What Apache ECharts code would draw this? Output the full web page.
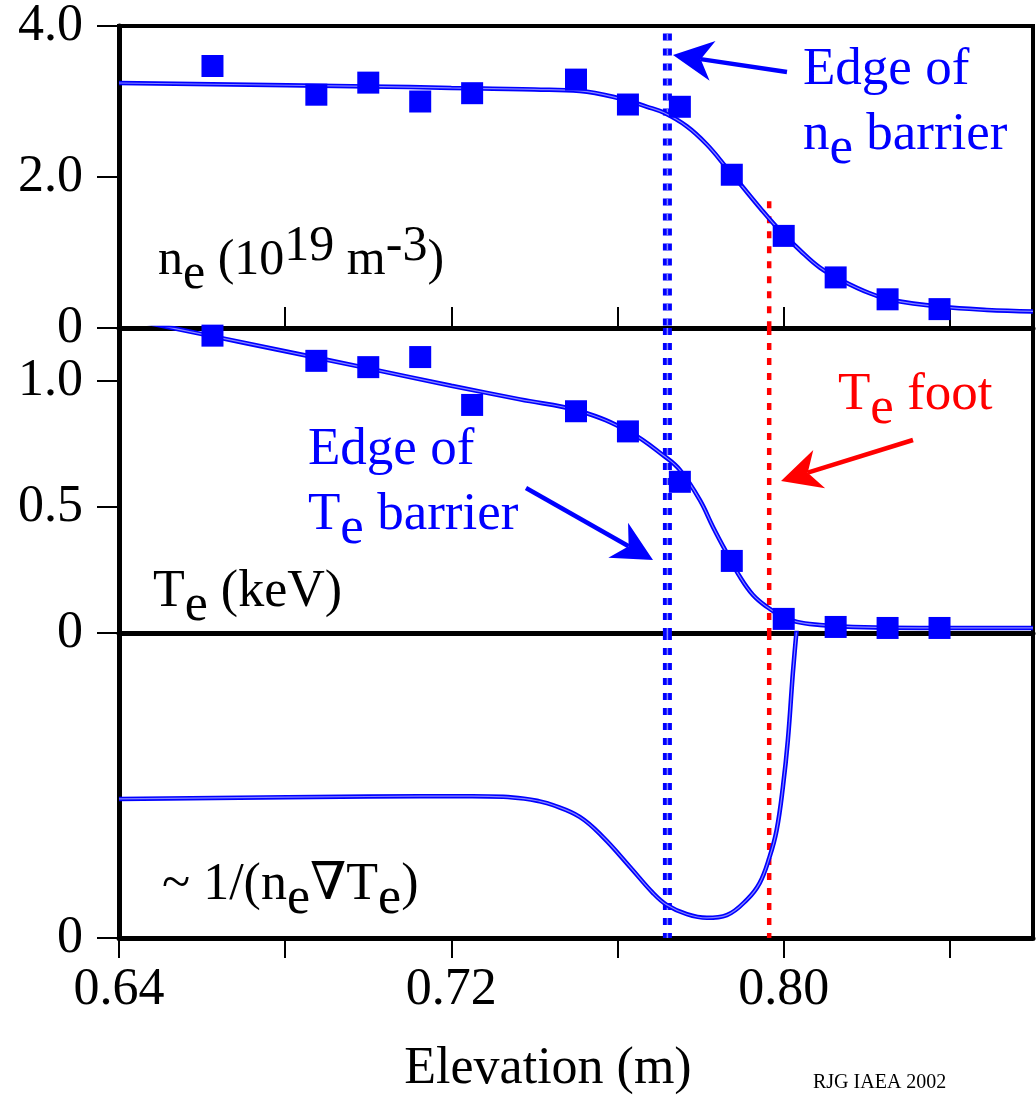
<!DOCTYPE html>
<html lang="en">
<head>
<meta charset="UTF-8">
<title>ne / Te edge barrier</title>
<script src="https://cdn.jsdelivr.net/npm/echarts@6.0.0/dist/echarts.min.js"></script>
<style>
  html, body { margin: 0; padding: 0; background: #fff; }
  #main { width: 1036px; height: 1095px; }
</style>
</head>
<body>
<div id="main"></div>
<script>
// Thomson points, elevation (m)
var pointX = [0.6625, 0.6875, 0.700, 0.7125, 0.725, 0.750, 0.7625, 0.775, 0.7875, 0.800, 0.8125, 0.825, 0.8375];
var nePoints = [3.47, 3.09, 3.25, 3.00, 3.11, 3.29, 2.96, 2.93, 2.03, 1.22, 0.67, 0.38, 0.25];
var tePoints = [1.18, 1.08, 1.055, 1.095, 0.905, 0.88, 0.80, 0.60, 0.286, 0.056, 0.024, 0.02, 0.02];

// fitted profiles
var neFitX = [0.64, 0.70, 0.72, 0.73, 0.74, 0.7509, 0.7606, 0.7671, 0.7712, 0.7767, 0.7815, 0.7863, 0.7895, 0.7943, 0.7991, 0.8039, 0.8087, 0.814, 0.8207, 0.826, 0.8381, 0.8489, 0.86];
var neFit = [3.245, 3.20, 3.18, 3.17, 3.16, 3.14, 3.04, 2.93, 2.85, 2.67, 2.43, 2.12, 1.91, 1.59, 1.29, 1.03, 0.80, 0.63, 0.46, 0.37, 0.28, 0.24, 0.22];
var teFitX = [0.64, 0.66, 0.68, 0.70, 0.72, 0.7365, 0.751, 0.763, 0.7714, 0.775, 0.7798, 0.783, 0.7863, 0.7895, 0.7926, 0.796, 0.7991, 0.8032, 0.8087, 0.8167, 0.8328, 0.86];
var teFit = [1.254, 1.186, 1.118, 1.05, 0.981, 0.927, 0.88, 0.797, 0.70, 0.647, 0.528, 0.42, 0.317, 0.222, 0.151, 0.103, 0.071, 0.044, 0.032, 0.024, 0.02, 0.02];
var invX = [0.64, 0.70, 0.725, 0.7325, 0.7375, 0.7406, 0.7444, 0.7509, 0.7565, 0.763, 0.7685, 0.7719, 0.7767, 0.7815, 0.7863, 0.7911, 0.7942, 0.7966, 0.7983, 0.7998, 0.801, 0.8022, 0.8031, 0.804];
var invFit = [0.456, 0.464, 0.465, 0.463, 0.457, 0.450, 0.436, 0.397, 0.331, 0.233, 0.148, 0.108, 0.078, 0.066, 0.075, 0.125, 0.18, 0.266, 0.354, 0.495, 0.649, 0.869, 1.01, 1.15];

// barrier markers
var barrierEdge = 0.772;
var teFoot = 0.7965;
var barrierTopNe = 3.9;
var footTopNe = 1.68;

// axes
var xTicks = [0.64, 0.68, 0.72, 0.76, 0.80, 0.84];
var xLabels = [0.64, 0.72, 0.80];
var teTicks = [0, 0.5, 1.0];
var teMax = 305 / 252;

var FF = '"Liberation Serif", "DejaVu Serif", serif';
var FS = 52;
var BLUE = '#0000ff', RED = '#ff0000', PALE = '#8585ff';

function pairs(xs, ys) { return xs.map(function (x, i) { return [x, ys[i]]; }); }

var chart = echarts.init(document.getElementById('main'));

var grids = [
  { left: 119, width: 914, top: 24, height: 304 },
  { left: 119, width: 914, top: 328, height: 305 },
  { left: 119, width: 914, top: 633, height: 305 }
].map(function (g) {
  return Object.assign(g, { show: true, borderColor: '#000', borderWidth: 4, backgroundColor: 'transparent' });
});

var labelFont = { fontFamily: FF, fontSize: FS, color: '#000' };
var tickStyle = { color: '#000', width: 2 };
var axLine = { show: true, onZero: false, lineStyle: { color: '#000', width: 5 } };

function xAx(grid, extra) {
  return Object.assign({
    type: 'value', gridIndex: grid, min: 0.64, max: 0.86, interval: 0.04,
    axisLine: axLine, splitLine: { show: false },
    axisTick: { show: false }, axisLabel: { show: false }
  }, extra);
}

var xAxes = [
  xAx(0, { axisTick: { show: true, inside: true, length: 21, lineStyle: tickStyle, customValues: xTicks } }),
  xAx(1, {}),
  xAx(2, {
    axisTick: { show: true, inside: false, length: 20, lineStyle: tickStyle, customValues: xTicks },
    axisLabel: Object.assign({ show: true, margin: 26, customValues: xLabels,
      formatter: function (v) { return v.toFixed(2); } }, labelFont)
  }),
  xAx(2, { position: 'top', axisLine: { show: false },
    axisTick: { show: true, inside: true, length: 20, lineStyle: tickStyle, customValues: xTicks } })
];

function yAx(grid, extra) {
  return Object.assign({
    type: 'value', gridIndex: grid, min: 0,
    axisLine: axLine, splitLine: { show: false },
    axisTick: { show: true, inside: false, length: 22, lineStyle: tickStyle }
  }, extra);
}

var yAxes = [
  yAx(0, { max: 4, interval: 2,
    axisLabel: Object.assign({ margin: 36, formatter: function (v) { return v === 0 ? '0' : v.toFixed(1); } }, labelFont) }),
  yAx(1, { max: teMax, interval: 0.5,
    axisTick: { show: true, inside: false, length: 22, lineStyle: tickStyle, customValues: teTicks },
    axisLabel: Object.assign({ margin: 36, customValues: teTicks,
      formatter: function (v) { return v === 0 ? '0' : v.toFixed(1); } }, labelFont) }),
  yAx(2, { max: 1,
    axisTick: { show: true, inside: false, length: 22, lineStyle: tickStyle, customValues: [0] },
    axisLabel: Object.assign({ margin: 36, customValues: [0], formatter: function () { return '0'; } }, labelFont) })
];

// fitted curves are drawn as a double line: blue with a pale core
function fitLine(xi, yi, xs, ys, color, width, z) {
  return {
    type: 'line', xAxisIndex: xi, yAxisIndex: yi, data: pairs(xs, ys),
    smooth: 0.4, showSymbol: false, symbol: 'none', clip: true, z: z,
    silent: true, lineStyle: { color: color, width: width }
  };
}
function points(xi, yi, ys) {
  return {
    type: 'scatter', xAxisIndex: xi, yAxisIndex: yi, data: pairs(pointX, ys),
    symbol: 'rect', symbolSize: 22, z: 6, itemStyle: { color: BLUE, opacity: 1 }
  };
}
function vline(xi, yi, x, y0, y1, color, w) {
  return {
    type: 'line', xAxisIndex: xi, yAxisIndex: yi, data: [[x, y0], [x, y1]],
    showSymbol: false, symbol: 'none', z: 2, silent: true,
    lineStyle: { color: color, width: w, type: [7, 8] }
  };
}

function panelSeries(i, fx, fy, pts, topEdge, topFoot) {
  var s = [
    vline(i, i, barrierEdge, topEdge, 0, BLUE, 9),
    vline(i, i, barrierEdge, topEdge, 0, PALE, 1.5),
    vline(i, i, teFoot, topFoot, 0, RED, 4.5),
    fitLine(i, i, fx, fy, BLUE, 4.5, 3),
    fitLine(i, i, fx, fy, PALE, 1.2, 4)
  ];
  if (pts) s.push(points(i, i, pts));
  return s;
}

var series = [].concat(
  panelSeries(0, neFitX, neFit, nePoints, barrierTopNe, footTopNe),
  panelSeries(1, teFitX, teFit, tePoints, teMax, teMax),
  panelSeries(2, invX, invFit, null, 1, 1)
);

// text with sub/superscripts (same size, shifted)
var D = 14;
function rich(color, fs) {
  var base = { fontSize: fs, fontFamily: FF, fill: color };
  return {
    n: Object.assign({ padding: [D, 0, D, 0] }, base),
    s: Object.assign({ padding: [2 * D, 0, 0, 0] }, base),
    p: Object.assign({ padding: [0, 0, 2 * D, 0] }, base)
  };
}
function label(x, baseline, text, color, size, align) {
  var fs = size || FS;
  return {
    type: 'text', x: x, y: baseline - 0.34 * fs, z: 50,
    style: { text: text, rich: rich(color, fs), fill: color, fontSize: fs, fontFamily: FF,
      align: align || 'left', verticalAlign: 'middle' }
  };
}
function arrow(tail, tip, color) {
  var dx = tip[0] - tail[0], dy = tip[1] - tail[1];
  var len = Math.sqrt(dx * dx + dy * dy);
  var ux = dx / len, uy = dy / len, nx = -uy, ny = ux;
  var hl = 40, hw = 20, nd = 28;
  var notch = [tip[0] - ux * nd, tip[1] - uy * nd];
  return [
    { type: 'line', z: 50, shape: { x1: tail[0], y1: tail[1], x2: notch[0], y2: notch[1] },
      style: { stroke: color, lineWidth: 4.5 } },
    { type: 'polygon', z: 50, shape: { points: [
      tip,
      [tip[0] - ux * hl + nx * hw, tip[1] - uy * hl + ny * hw],
      notch,
      [tip[0] - ux * hl - nx * hw, tip[1] - uy * hl - ny * hw]
    ] }, style: { fill: color } }
  ];
}

var graphics = [
  label(158, 278, '{n|n}{s|e}{n| (10}{p|19}{n| m}{p|-3}{n|)}', '#000', 50),
  label(153, 610, '{n|T}{s|e}{n| (keV)}', '#000'),
  label(162, 903, '{n|~ 1/(n}{s|e}{n|\u2207T}{s|e}{n|)}', '#000'),
  label(803, 88, '{n|Edge of}', BLUE, 53),
  label(803, 153, '{n|n}{s|e}{n| barrier}', BLUE, 53),
  label(308, 468, '{n|Edge of}', BLUE, 53),
  label(308, 533, '{n|T}{s|e}{n| barrier}', BLUE, 53),
  label(838, 413, '{n|T}{s|e}{n| foot}', RED, 53),
  { type: 'text', x: 548, y: 1087 - 0.34 * FS, z: 50,
    style: { text: 'Elevation (m)', fontSize: FS, fontFamily: FF, fill: '#000', align: 'center', verticalAlign: 'middle' } },
  { type: 'text', x: 813, y: 1090 - 0.34 * 20, z: 50,
    style: { text: 'RJG IAEA 2002', fontSize: 20, fontFamily: FF, fill: '#000', align: 'left', verticalAlign: 'middle' } }
].concat(
  arrow([787, 72], [673, 55], BLUE),
  arrow([913, 440], [781, 481], RED),
  arrow([526, 488], [653, 560], BLUE)
);

chart.setOption({
  animation: false,
  backgroundColor: '#fff',
  grid: grids,
  xAxis: xAxes,
  yAxis: yAxes,
  series: series,
  graphic: graphics
});
</script>
</body>
</html>
